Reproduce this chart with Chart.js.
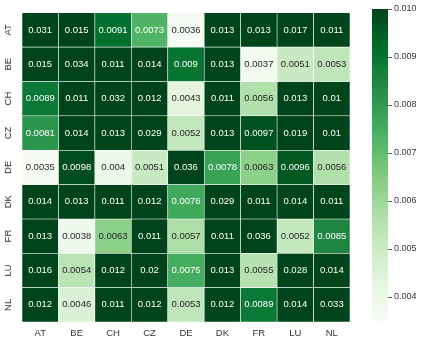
<!DOCTYPE html>
<html>
<head>
<meta charset="utf-8">
<script src="https://cdn.jsdelivr.net/npm/chart.js@4.4.0/dist/chart.umd.min.js"></script>
<style>
  html, body { margin: 0; padding: 0; background: #fff; }
  body { width: 423px; height: 343px; position: relative; overflow: hidden; }
  #heat { position: absolute; left: 0; top: 0; }
  #cbar { position: absolute; left: 372px; top: 0; }
</style>
</head>
<body>
<canvas id="heat" width="350" height="343"></canvas>
<canvas id="cbar" width="51" height="343"></canvas>
<script>
// Correlation-ish matrix between countries (seaborn style heatmap, Greens)

const countries = ['AT', 'BE', 'CH', 'CZ', 'DE', 'DK', 'FR', 'LU', 'NL'];

const rowAT = [0.031, 0.015, 0.0091, 0.0073, 0.0036, 0.013, 0.013, 0.017, 0.011];
const rowBE = [0.015, 0.034, 0.011, 0.014, 0.009, 0.013, 0.0037, 0.0051, 0.0053];
const rowCH = [0.0089, 0.011, 0.032, 0.012, 0.0043, 0.011, 0.0056, 0.013, 0.01];
const rowCZ = [0.0081, 0.014, 0.013, 0.029, 0.0052, 0.013, 0.0097, 0.019, 0.01];
const rowDE = [0.0035, 0.0098, 0.004, 0.0051, 0.036, 0.0078, 0.0063, 0.0096, 0.0056];
const rowDK = [0.014, 0.013, 0.011, 0.012, 0.0076, 0.029, 0.011, 0.014, 0.011];
const rowFR = [0.013, 0.0038, 0.0063, 0.011, 0.0057, 0.011, 0.036, 0.0052, 0.0085];
const rowLU = [0.016, 0.0054, 0.012, 0.02, 0.0075, 0.013, 0.0055, 0.028, 0.014];
const rowNL = [0.012, 0.0046, 0.011, 0.012, 0.0053, 0.012, 0.0089, 0.014, 0.033];

const rows = [rowAT, rowBE, rowCH, rowCZ, rowDE, rowDK, rowFR, rowLU, rowNL];

const vmin = 0.0035;
const vmax = 0.010;
const cbarTicks = [0.004, 0.005, 0.006, 0.007, 0.008, 0.009, 0.010];

const FONT = '"Liberation Sans", Arial, sans-serif';
const TEXT = '#333333';

// matplotlib "Greens"
const greens = ['#f7fcf5', '#e5f5e0', '#c7e9c0', '#a1d99b', '#74c476', '#41ab5d', '#238b45', '#006d2c', '#00441b'];

function hexToRgb(h) {
  return [parseInt(h.slice(1, 3), 16), parseInt(h.slice(3, 5), 16), parseInt(h.slice(5, 7), 16)];
}

function cmap(v) {
  let t = (v - vmin) / (vmax - vmin);
  t = Math.max(0, Math.min(1, t));
  const pos = t * (greens.length - 1);
  const i = Math.min(Math.floor(pos), greens.length - 2);
  const f = pos - i;
  const a = hexToRgb(greens[i]), b = hexToRgb(greens[i + 1]);
  return a.map((c, k) => Math.round(c + (b[k] - c) * f));
}

function luminance(rgb) {
  const lin = rgb.map(c => {
    c = c / 255;
    return c <= 0.03928 ? c / 12.92 : Math.pow((c + 0.055) / 1.055, 2.4);
  });
  return 0.2126 * lin[0] + 0.7152 * lin[1] + 0.0722 * lin[2];
}

const fmt = v => Number(v.toPrecision(2)).toString();

// Annotation plugin: writes the value in the middle of each cell
const annotatePlugin = {
  id: 'annotate',
  afterDatasetsDraw(chart) {
    const ctx = chart.ctx;
    ctx.save();
    ctx.font = '9.5px ' + FONT;
    ctx.textAlign = 'center';
    ctx.textBaseline = 'middle';
    chart.data.datasets.forEach((ds, r) => {
      const meta = chart.getDatasetMeta(r);
      meta.data.forEach((bar, c) => {
        const v = rows[r][c];
        const rgb = cmap(v);
        ctx.fillStyle = luminance(rgb) > 0.408 ? '#262626' : '#ffffff';
        ctx.fillText(fmt(v), bar.x, (bar.y + bar.base) / 2);
      });
    });
    ctx.restore();
  }
};

const datasets = rows.map((vals, r) => ({
  label: countries[r],
  data: vals.map(() => [r, r + 1]),
  backgroundColor: vals.map(v => 'rgb(' + cmap(v).join(',') + ')'),
  borderColor: '#ffffff',
  borderWidth: 0.6,
  borderSkipped: false,
  barPercentage: 1,
  categoryPercentage: 1,
  grouped: false
}));

new Chart(document.getElementById('heat'), {
  type: 'bar',
  plugins: [annotatePlugin],
  data: { labels: countries, datasets: datasets },
  options: {
    responsive: false,
    animation: false,
    layout: { padding: { top: 8, right: 0, left: 0, bottom: 0 } },
    plugins: { legend: { display: false }, tooltip: { enabled: false } },
    scales: {
      x: {
        grid: { display: false, drawTicks: false },
        border: { display: false },
        ticks: { color: TEXT, font: { family: FONT, size: 9.5 }, padding: 6, maxRotation: 0 },
        afterFit: s => { s.height = 21; }
      },
      y: {
        type: 'linear',
        min: 0,
        max: 9,
        reverse: true,
        display: false
      },
      yl: {
        type: 'category',
        labels: countries,
        position: 'left',
        offset: true,
        grid: { display: false, drawTicks: false },
        border: { display: false },
        ticks: {
          color: TEXT,
          font: { family: FONT, size: 9.5 },
          minRotation: 90,
          maxRotation: 90,
          crossAlign: 'center',
          padding: 7
        },
        afterFit: s => { s.width = 22; }
      }
    }
  }
});

// Colorbar
const cbarLabels = ['cbar'];
new Chart(document.getElementById('cbar'), {
  type: 'bar',
  data: {
    labels: cbarLabels,
    datasets: [{
      data: [[vmin, vmax]],
      backgroundColor: (ctx) => {
        const area = ctx.chart.chartArea;
        if (!area) return greens[4];
        const g = ctx.chart.ctx.createLinearGradient(0, area.bottom, 0, area.top);
        greens.forEach((c, i) => g.addColorStop(i / (greens.length - 1), c));
        return g;
      },
      borderWidth: 0,
      barPercentage: 1,
      categoryPercentage: 1
    }]
  },
  options: {
    responsive: false,
    animation: false,
    layout: { padding: { top: 9, bottom: 22, left: 0, right: 0 } },
    plugins: { legend: { display: false }, tooltip: { enabled: false } },
    scales: {
      x: { display: false },
      y: {
        position: 'right',
        min: vmin,
        max: vmax,
        afterBuildTicks: s => { s.ticks = cbarTicks.map(v => ({ value: v })); },
        grid: { drawOnChartArea: false, tickLength: 4, color: TEXT, tickWidth: 0.8 },
        border: { display: false },
        ticks: {
          color: TEXT,
          font: { family: FONT, size: 9 },
          padding: 2,
          callback: v => v.toFixed(3)
        },
        afterFit: s => { s.width = 35; }
      }
    }
  }
});
</script>
</body>
</html>
